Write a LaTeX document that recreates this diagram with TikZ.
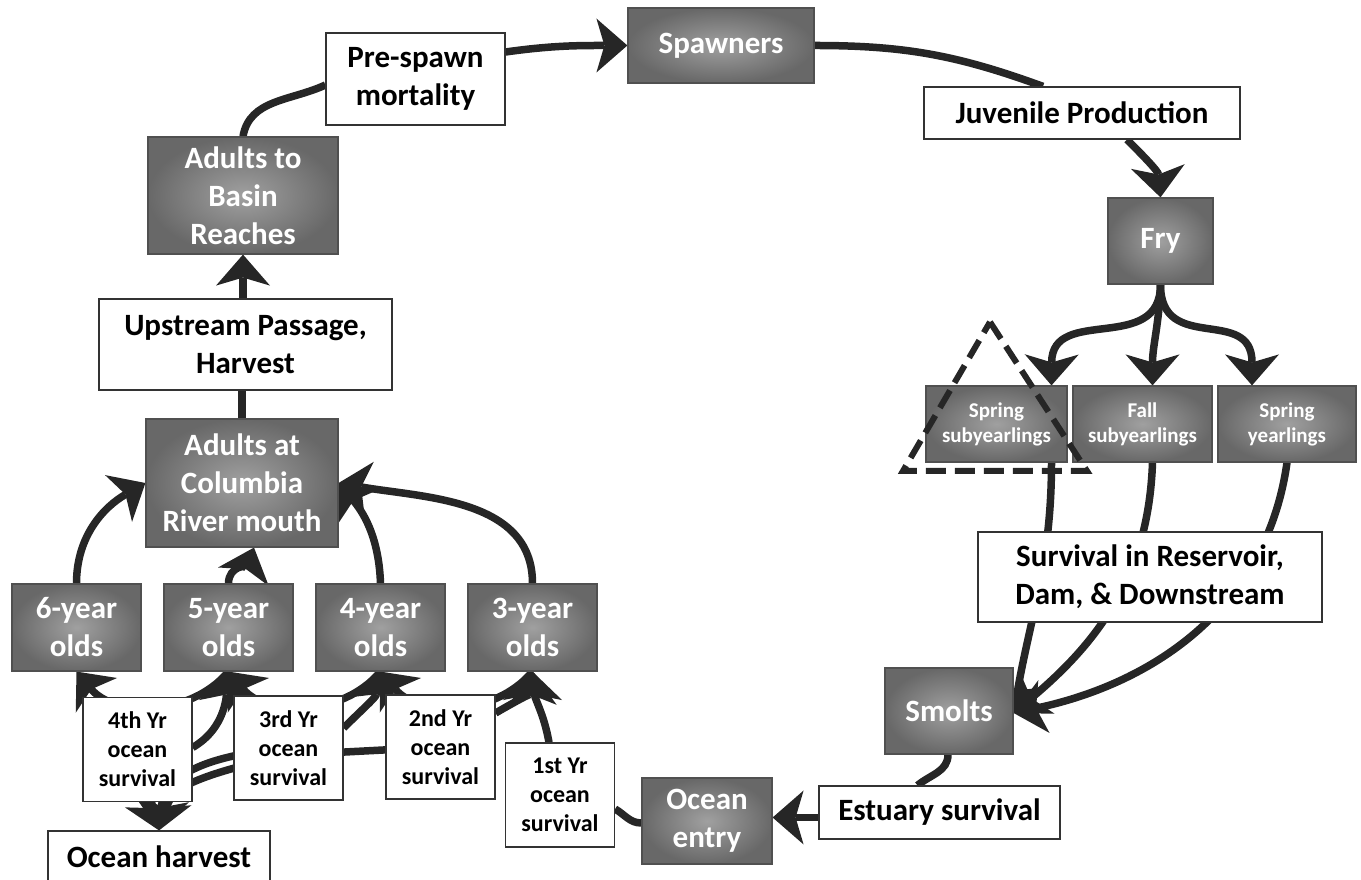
\documentclass[tikz,border=0pt]{standalone}
\usepackage{fontspec}
\setmainfont{Carlito}
\usetikzlibrary{arrows.meta,backgrounds}

\definecolor{boxin}{RGB}{160,160,160}
\definecolor{boxout}{RGB}{104,104,104}
\definecolor{boxline}{RGB}{80,80,80}
\definecolor{linkgray}{RGB}{38,38,38}

\tikzset{
  stage/.style 2 args={rectangle, draw=boxline, line width=1.2pt, shading=radial,
    inner color=boxin, outer color=boxout, text=white, align=center, inner sep=0pt,
    font=\bfseries\fontsize{31}{38}\selectfont, minimum width=#1, minimum height=#2},
  young/.style 2 args={stage={#1}{#2}, font=\bfseries\fontsize{21}{25}\selectfont},
  rate/.style 2 args={rectangle, draw=black!80, line width=1.2pt, fill=white,
    text=black, align=center, inner sep=0pt,
    font=\bfseries\fontsize{31}{38}\selectfont, minimum width=#1, minimum height=#2},
  yrrate/.style={rate={109pt}{104pt}, font=\bfseries\fontsize{24}{29}\selectfont},
  link/.style={draw=linkgray, line width=7.5pt},
  tip/.style={-{Stealth[length=31pt,width=54pt,inset=8pt,line width=0pt]}},
  dashtri/.style={draw=linkgray, line width=6pt, dash pattern=on 20pt off 9pt},
}

\begin{document}
\begin{tikzpicture}[x=1pt,y=1pt]
\useasboundingbox (0,0) rectangle (1361,880);

% upper loop
\node[stage={186pt}{75pt}] (spawn) at (721,834.5) {Spawners};
\node[rate={179pt}{92pt}] (prespawn) at (415.5,801) {Pre-spawn\\mortality};
\node[stage={190pt}{117pt}] (basin) at (243,684.5) {Adults to\\Basin\\Reaches};
\node[rate={293pt}{91pt}] (upstream) at (245.5,535.5) {Upstream Passage,\\Harvest};
\node[stage={192pt}{128pt}] (columbia) at (242,397) {Adults at\\Columbia\\River mouth};
\node[rate={316pt}{52pt}] (juv) at (1082,767) {Juvenile Production};
\node[stage={105pt}{86pt}] (fry) at (1160.5,639) {Fry};

% juveniles
\node[young={141pt}{76pt}] (ssub) at (996.5,456) {Spring\\subyearlings};
\node[young={139pt}{76pt}] (fsub) at (1142.5,456) {Fall\\subyearlings};
\node[young={138pt}{76pt}] (syear) at (1287,456) {Spring\\yearlings};
\node[rate={344pt}{90pt}] (survival) at (1150,303) {Survival in Reservoir,\\Dam, \& Downstream};
\node[stage={128pt}{86pt}] (smolts) at (949,169) {Smolts};
\node[rate={241pt}{53pt}] (estuary) at (939.5,67.5) {Estuary survival};
\node[stage={130pt}{86pt}] (oentry) at (707,59) {Ocean\\entry};
\node[rate={222pt}{52pt}] (harvest) at (159,23) {Ocean harvest};

% ocean years
\foreach \n/\x/\age in {y6/76.5/6, y5/228.5/5, y4/380.5/4, y3/532.5/3}
  \node[stage={129pt}{87pt}] (\n) at (\x,252.5) {\age-year\\olds};
\foreach \n/\x/\y/\lbl in {s4/137.5/130.5/4th, s3/288.5/132/3rd, s2/440.5/133/2nd, s1/560/85/1st}
  \node[yrrate] (\n) at (\x,\y) {\lbl\ Yr\\ocean\\survival};

\draw[dashtri] (990,558) -- (1087,409) -- (903,409) -- cycle;

\begin{scope}[on background layer]
  \draw[link] (basin.north) to[out=80,in=205] ([yshift=-6pt]prespawn.west);
  \draw[link,tip] ([yshift=27pt]prespawn.east) to[out=8,in=180] (spawn.west);
  \draw[link] (spawn.east) to[out=0,in=160] ([xshift=-39pt]juv.north);
  \draw[link,tip] ([xshift=45pt]juv.south) to[out=-45,in=95] (fry.north);
  \draw[link,tip] (fry.south) .. controls (1160.5,525) and (1052,575) .. ([xshift=55pt]ssub.north);
  \draw[link,tip] (fry.south) to[out=-92,in=90] ([xshift=10pt]fsub.north);
  \draw[link,tip] (fry.south) .. controls (1160.5,525) and (1252,575) .. ([xshift=-35pt]syear.north);
  \draw[link,tip] ([xshift=55pt]ssub.south) to[out=-90,in=80] ([yshift=-2pt]smolts.east);
  \draw[link,tip] ([xshift=10pt]fsub.south) to[out=-92,in=40] ([yshift=-2pt]smolts.east);
  \draw[link,tip] (syear.south) to[out=-98,in=12] ([yshift=-2pt]smolts.east);
  \draw[link] ([xshift=-1pt]smolts.south) to[out=-90,in=40] ([xshift=-22pt]estuary.north);
  \draw[link,tip] ([yshift=-5pt]estuary.west) -- ([yshift=-5pt]estuary.west -| oentry.east);
  \draw[link] ([yshift=-2pt]oentry.west) to[out=180,in=-30] ([yshift=-14pt]s1.east);
  \draw[link,tip] ([xshift=-11pt]s1.north) to[out=100,in=-85] (y3.south);
  \foreach \u/\v in {y3/y4, y4/y5, y5/y6}
    \draw[link,tip] (\u.south) to[out=-130,in=-50] (\v.south);
  \draw[link,tip] ([yshift=2pt]s4.east) to[out=30,in=-95] (y5.south);
  \draw[link,tip] ([yshift=20pt]s3.east) to[out=45,in=-100] (y4.south);
  \draw[link,tip] ([yshift=34pt]s2.east) to[out=30,in=-95] (y3.south);
  \draw[link,tip] (s4.center) -- (harvest.north);
  \draw[link,tip] (s3.center) .. controls (220,126) and (165,110) .. (harvest.north);
  \draw[link,tip] (s2.center) -- (288,125) .. controls (220,110) and (168,95) .. (harvest.north);
  \draw[link,tip] (y6.north) to[out=90,in=210] (columbia.west);
  \draw[link,tip] (y5.north) to[out=90,in=-110] ([xshift=12pt]columbia.south);
  \draw[link,tip] (y4.north) to[out=92,in=-50] (columbia.east);
  \draw[link,tip] (y3.north) to[out=90,in=-10] (columbia.east);
  \draw[link] (columbia.north) -- (columbia.north |- upstream.south);
  \draw[link,tip] (upstream.north -| basin.south) -- (basin.south);
\end{scope}
\end{tikzpicture}
\end{document}
